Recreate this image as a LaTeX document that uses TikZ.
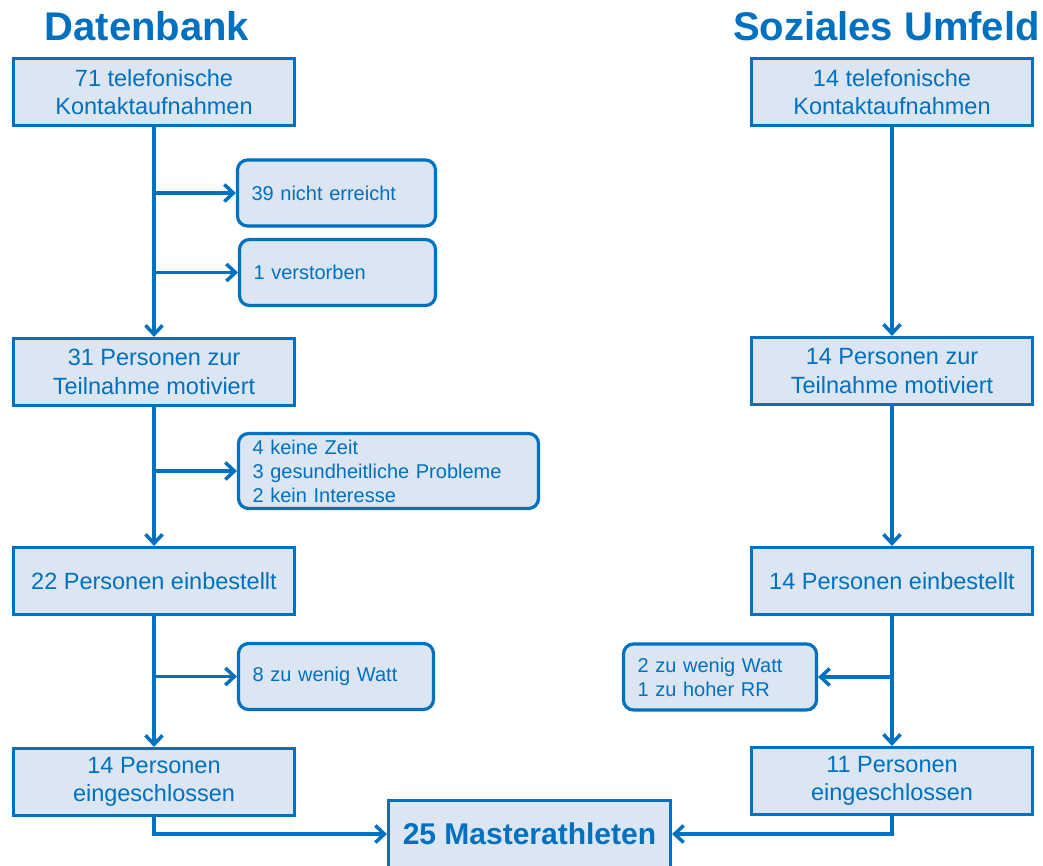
\documentclass[tikz,border=0pt]{standalone}
\usepackage{fontspec}
\setmainfont{Liberation Sans}
\usetikzlibrary{arrows.meta}
\definecolor{dblue}{HTML}{0070C0}
\definecolor{lfill}{HTML}{DCE6F2}

\begin{document}
\begin{tikzpicture}[x=1pt,y=-1pt]
  \tikzstyle{every node}=[text=dblue]
  \tikzstyle{title}=[inner sep=0pt,font=\fontsize{40}{44}\selectfont\bfseries]
  \tikzstyle{mainbox}=[draw=dblue,fill=lfill,line width=3.2pt,minimum width=281pt,minimum height=67pt,align=center,font=\fontsize{23.5}{28.5}\selectfont]
  \tikzstyle{sidebox}=[draw=dblue,fill=lfill,line width=3.2pt,rounded corners=10pt,inner xsep=14pt,minimum height=66pt,align=left,font=\fontsize{20}{24}\selectfont]
  \tikzstyle{flow}=[draw=dblue,line width=3.5pt,-{Straight Barb[length=9pt,width=17pt]}]

  \useasboundingbox (0,0) rectangle (1043,865);

  % titles
  \node[title] (tdb) at (147,26) {Datenbank};
  \node[title,anchor=east] (tsu) at (1040,26) {Soziales Umfeld};

  % Datenbank
  \node[mainbox] (db1) at (154,92) {71 telefonische\\Kontaktaufnahmen};
  \node[sidebox,text width=170pt] (db1a) at (336.5,193) {39 nicht erreicht};
  \node[sidebox,text width=168pt] (db1b) at (337.5,272.5) {1 verstorben};
  \node[mainbox] (db2) at (154,372) {31 Personen zur\\Teilnahme motiviert};
  \node[sidebox,text width=272pt,minimum height=75pt] (db2a) at (388.5,471) {4 keine Zeit\\3 gesundheitliche Probleme\\2 kein Interesse};
  \node[mainbox] (db3) at (154,581) {22 Personen einbestellt};
  \node[sidebox,text width=167pt] (db3a) at (336,676.5) {8 zu wenig Watt};
  \node[mainbox] (db4) at (154,782) {14 Personen\\eingeschlossen};

  % Soziales Umfeld
  \node[mainbox] (su1) at (892,92) {14 telefonische\\Kontaktaufnahmen};
  \node[mainbox] (su2) at (892,371) {14 Personen zur\\Teilnahme motiviert};
  \node[mainbox] (su3) at (892,581) {14 Personen einbestellt};
  \node[sidebox,text width=165pt] (su3a) at (720,677) {2 zu wenig Watt\\1 zu hoher RR};
  \node[mainbox] (su4) at (892,781) {11 Personen\\eingeschlossen};

  \node[mainbox,minimum width=282pt,font=\fontsize{30}{34}\selectfont\bfseries] (all) at (529.5,834) {25 Masterathleten};

  \draw[flow] (db1) -- (db2);
  \draw[flow] (db1.south |- db1a.west) -- (db1a.west);
  \draw[flow] (db1.south |- db1b.west) -- (db1b.west);
  \draw[flow] (db2) -- (db3);
  \draw[flow] (db2.south |- db2a.west) -- (db2a.west);
  \draw[flow] (db3) -- (db4);
  \draw[flow] (db3.south |- db3a.west) -- (db3a.west);
  \draw[flow] (db4.south) |- (all.west);

  \draw[flow] (su1) -- (su2);
  \draw[flow] (su2) -- (su3);
  \draw[flow] (su3) -- (su4);
  \draw[flow] (su3.south |- su3a.east) -- (su3a.east);
  \draw[flow] (su4.south) |- (all.east);
\end{tikzpicture}
\end{document}
